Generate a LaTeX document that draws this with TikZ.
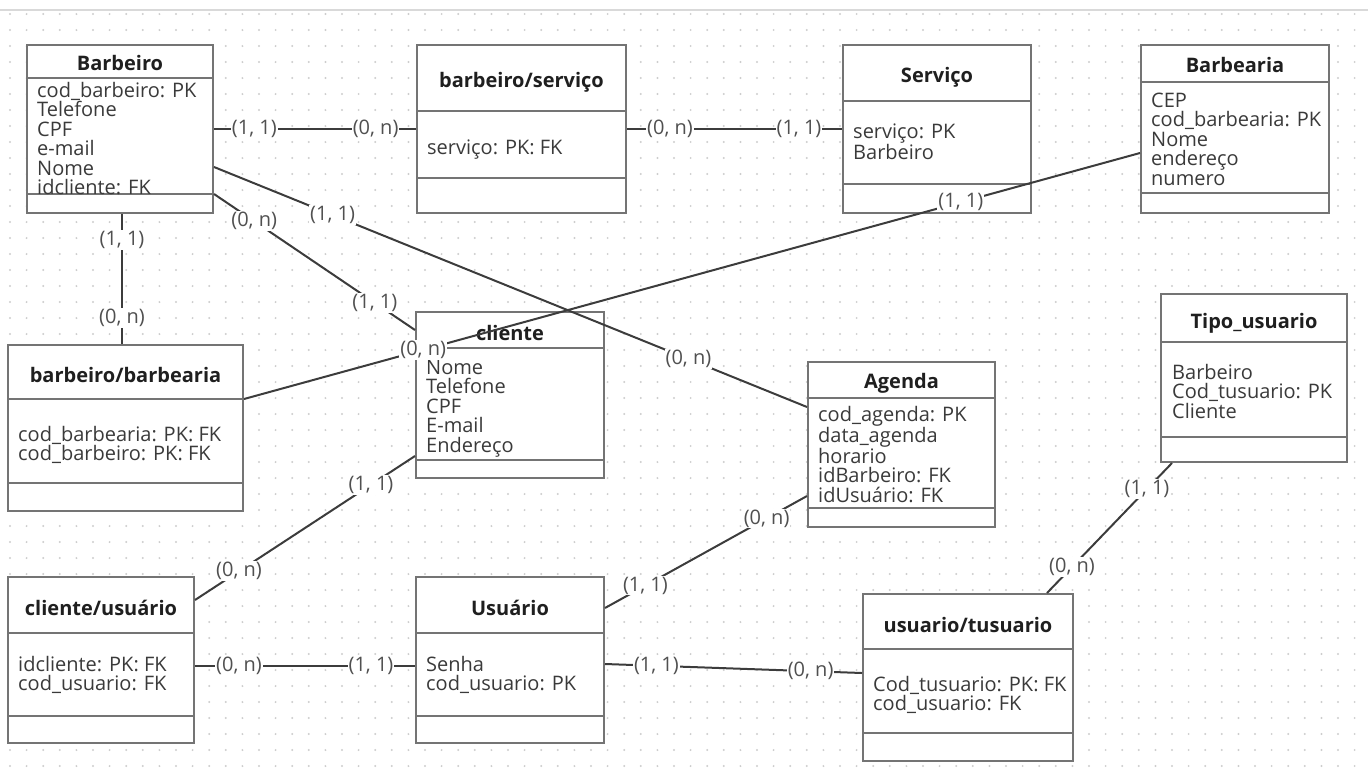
\documentclass[tikz,border=0pt]{standalone}
\usepackage{fontspec}
\setmainfont{Open Sans}
\usetikzlibrary{fit}

\definecolor{boxgray}{HTML}{747474}
\definecolor{linegray}{HTML}{3C3C3C}
\definecolor{txtgray}{HTML}{3A3A3A}
\definecolor{cardgray}{HTML}{505050}
\definecolor{dotgray}{HTML}{CDCDCD}

% attribute blocks sit on the baseline of their last line
\tikzset{
  ent/.style={draw=boxgray, line width=2pt, fill=white, inner sep=0pt},
  part/.style={draw=boxgray, line width=2pt},
  title/.style={anchor=base, inner sep=0pt, font=\fontsize{20}{19.5}\selectfont\bfseries, text=black!88},
  attr/.style={anchor=base west, align=left, inner sep=0pt, text=txtgray},
  rel/.style={draw=linegray, line width=2pt},
  card/.style={fill=white, inner sep=1pt, text=cardgray},
}

\begin{document}
\begin{tikzpicture}[x=1pt, y=-1pt, font=\fontsize{20}{19.5}\selectfont]
	\useasboundingbox (0,0) rectangle (1368,777);

	% dotted canvas
	\foreach \x in {10,26.6,...,1368}
		\foreach \y in {14,30,...,777}
			\fill[dotgray] (\x,\y) circle (1.1pt);
	\draw[line width=2pt, gray!30] (0,10) -- (1368,10);

	% top row
	\node[ent, fit={(27,45) (213,213)}] (barbeiro) {};
	\draw[part] (barbeiro.west |- 0,78) -- (barbeiro.east |- 0,78);
	\draw[part] (barbeiro.west |- 0,194) -- (barbeiro.east |- 0,194);
	\node[title] (barbeiro-t) at (barbeiro.north |- 0,70) {Barbeiro};
	\node[attr] (barbeiro-a) at (37,194.5) {cod\_barbeiro: PK\\Telefone\\CPF\\e-mail\\Nome\\idcliente: FK};

	\node[ent, fit={(417,45) (626,213)}] (bserv) {};
	\draw[part] (bserv.west |- 0,111) -- (bserv.east |- 0,111);
	\draw[part] (bserv.west |- 0,178) -- (bserv.east |- 0,178);
	\node[title] (bserv-t) at (bserv.north |- 0,87) {barbeiro/serviço};
	\node[attr] (bserv-a) at (427,154) {serviço: PK: FK};

	\node[ent, fit={(843,45) (1031,213)}] (servico) {};
	\draw[part] (servico.west |- 0,101) -- (servico.east |- 0,101);
	\draw[part] (servico.west |- 0,184) -- (servico.east |- 0,184);
	\node[title] (servico-t) at (servico.north |- 0,82) {Serviço};
	\node[attr] (servico-a) at (853,159.5) {serviço: PK\\Barbeiro};

	\node[ent, fit={(1141,45) (1329,213)}] (barbearia) {};
	\draw[part] (barbearia.west |- 0,82) -- (barbearia.east |- 0,82);
	\draw[part] (barbearia.west |- 0,193) -- (barbearia.east |- 0,193);
	\node[title] (barbearia-t) at (barbearia.north |- 0,72) {Barbearia};
	\node[attr] (barbearia-a) at (1151,185) {CEP\\cod\_barbearia: PK\\Nome\\endereço\\numero};

	% middle row
	\node[ent, fit={(8,345) (243,511)}] (bbarb) {};
	\draw[part] (bbarb.west |- 0,399) -- (bbarb.east |- 0,399);
	\draw[part] (bbarb.west |- 0,483) -- (bbarb.east |- 0,483);
	\node[title] (bbarb-t) at (bbarb.north |- 0,382) {barbeiro/barbearia};
	\node[attr] (bbarb-a) at (18,460.5) {cod\_barbearia: PK: FK\\cod\_barbeiro: PK: FK};

	\node[ent, fit={(416,312) (604,478)}] (cliente) {};
	\draw[part] (cliente.west |- 0,348) -- (cliente.east |- 0,348);
	\draw[part] (cliente.west |- 0,460) -- (cliente.east |- 0,460);
	\node[title] (cliente-t) at (cliente.north |- 0,340) {cliente};
	\node[attr] (cliente-a) at (426,452) {Nome\\Telefone\\CPF\\E-mail\\Endereço};

	\node[ent, fit={(808,362) (995,527)}] (agenda) {};
	\draw[part] (agenda.west |- 0,398) -- (agenda.east |- 0,398);
	\draw[part] (agenda.west |- 0,508) -- (agenda.east |- 0,508);
	\node[title] (agenda-t) at (agenda.north |- 0,388) {Agenda};
	\node[attr] (agenda-a) at (818,502) {cod\_agenda: PK\\data\_agenda\\horario\\idBarbeiro: FK\\idUsuário: FK};

	\node[ent, fit={(1161,294) (1347,462)}] (tipo) {};
	\draw[part] (tipo.west |- 0,342) -- (tipo.east |- 0,342);
	\draw[part] (tipo.west |- 0,437) -- (tipo.east |- 0,437);
	\node[title] (tipo-t) at (tipo.north |- 0,328) {Tipo\_usuario};
	\node[attr] (tipo-a) at (1172,418) {Barbeiro\\Cod\_tusuario: PK\\Cliente};

	% bottom row
	\node[ent, fit={(8,577) (194,743)}] (cusu) {};
	\draw[part] (cusu.west |- 0,633) -- (cusu.east |- 0,633);
	\draw[part] (cusu.west |- 0,716) -- (cusu.east |- 0,716);
	\node[title] (cusu-t) at (cusu.north |- 0,615) {cliente/usuário};
	\node[attr] (cusu-a) at (18,690.5) {idcliente: PK: FK\\cod\_usuario: FK};

	\node[ent, fit={(416,577) (604,743)}] (usuario) {};
	\draw[part] (usuario.west |- 0,633) -- (usuario.east |- 0,633);
	\draw[part] (usuario.west |- 0,716) -- (usuario.east |- 0,716);
	\node[title] (usuario-t) at (usuario.north |- 0,615) {Usuário};
	\node[attr] (usuario-a) at (426,690.5) {Senha\\cod\_usuario: PK};

	\node[ent, fit={(863,594) (1073,761)}] (utusu) {};
	\draw[part] (utusu.west |- 0,649) -- (utusu.east |- 0,649);
	\draw[part] (utusu.west |- 0,733) -- (utusu.east |- 0,733);
	\node[title] (utusu-t) at (utusu.north |- 0,632) {usuario/tusuario};
	\node[attr] (utusu-a) at (873,710.5) {Cod\_tusuario: PK: FK\\cod\_usuario: FK};

	% relationships
	\draw[rel] (barbeiro.east |- 0,129) -- node[card, pos=.2] (c1a) {(1, 1)} node[card, pos=.8] (c1b) {(0, n)} (bserv.west |- 0,129);
	\draw[rel] (bserv.east |- 0,129) -- node[card, pos=.2] (c2a) {(0, n)} node[card, pos=.8] (c2b) {(1, 1)} (servico.west |- 0,129);
	\draw[rel] (barbeiro.east |- 0,167) -- node[card, pos=.2] (c3a) {(1, 1)} node[card, pos=.8] (c3b) {(0, n)} (agenda.west |- 0,407);
	\draw[rel] (barbeiro.east |- 0,194) -- node[card, pos=.2] (c4a) {(0, n)} node[card, pos=.8] (c4b) {(1, 1)} (cliente.west |- 0,330);
	\draw[rel] (barbeiro.south -| 122,0) -- node[card, pos=.2] (c5a) {(1, 1)} node[card, pos=.8] (c5b) {(0, n)} (bbarb.north -| 122,0);
	\draw[rel] (barbearia.west |- 0,153) -- node[card, pos=.2] (c6a) {(1, 1)} node[card, pos=.8] (c6b) {(0, n)} (bbarb.east |- 0,399);
	\draw[rel] (cliente.west |- 0,456) -- node[card, pos=.2] (c7a) {(1, 1)} node[card, pos=.8] (c7b) {(0, n)} (cusu.east |- 0,600);
	\draw[rel] (cusu.east |- 0,666) -- node[card, pos=.2] (c8a) {(0, n)} node[card, pos=.8] (c8b) {(1, 1)} (usuario.west |- 0,666);
	\draw[rel] (usuario.east |- 0,608) -- node[card, pos=.2] (c9a) {(1, 1)} node[card, pos=.8] (c9b) {(0, n)} (agenda.west |- 0,496);
	\draw[rel] (usuario.east |- 0,664) -- node[card, pos=.2] (c10a) {(1, 1)} node[card, pos=.8] (c10b) {(0, n)} (utusu.west |- 0,673);
	\draw[rel] (utusu.north -| 1047,0) -- node[card, pos=.2] (c11a) {(0, n)} node[card, pos=.8] (c11b) {(1, 1)} (tipo.south -| 1172,0);
\end{tikzpicture}
\end{document}
